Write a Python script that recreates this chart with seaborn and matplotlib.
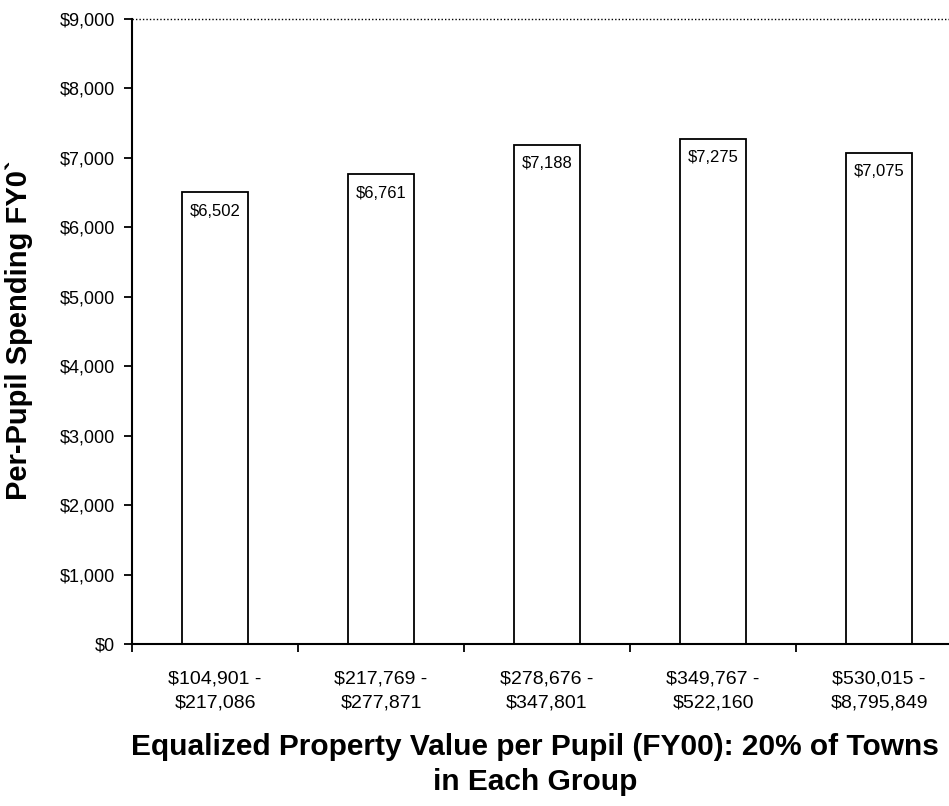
import matplotlib
matplotlib.use("Agg")
import matplotlib.pyplot as plt
import seaborn as sns
import pandas as pd
from matplotlib.ticker import FixedLocator, FuncFormatter

categories = [
    "$104,901 -\n$217,086",
    "$217,769 -\n$277,871",
    "$278,676 -\n$347,801",
    "$349,767 -\n$522,160",
    "$530,015 -\n$8,795,849",
]
spending = [6502, 6761, 7188, 7275, 7075]
bar_labels = ["$6,502", "$6,761", "$7,188", "$7,275", "$7,075"]
y_ticks = [0, 1000, 2000, 3000, 4000, 5000, 6000, 7000, 8000, 9000]

sns.set_theme(style="white")
plt.rcParams["font.family"] = ["Liberation Sans", "DejaVu Sans"]

df = pd.DataFrame({"group": categories, "value": spending})

fig = plt.figure(figsize=(9.49, 8.06), dpi=100)
ax = fig.add_axes([132 / 949, 162 / 806, 830 / 949, 625 / 806])

sns.barplot(data=df, x="group", y="value", ax=ax, color="white",
            edgecolor="black", linewidth=1.3, width=0.4, saturation=1)

ax.set_xlim(-0.5, 4.5)
ax.set_ylim(0, 9000)

# value labels inside bar tops
for i, (v, lab) in enumerate(zip(spending, bar_labels)):
    ax.annotate(lab, (i, v), xytext=(0, -8), textcoords="offset points",
                ha="center", va="top", fontsize=12, color="black")

# top dotted line at 9000
ax.axhline(9000, color="black", linestyle=(0, (1, 1.5)), linewidth=1, clip_on=False)

for s in ["top", "right"]:
    ax.spines[s].set_visible(False)
for s in ["left", "bottom"]:
    ax.spines[s].set_color("black")
    ax.spines[s].set_linewidth(1.5)

ax.yaxis.set_major_locator(FixedLocator(y_ticks))
ax.yaxis.set_major_formatter(FuncFormatter(lambda v, p: "${:,.0f}".format(v)))
ax.tick_params(axis="y", which="major", left=True, length=6, width=1.3,
               color="black", labelsize=13, pad=6, labelcolor="black")

# x: labels at category centers (no tick marks), tick marks at boundaries
ax.set_xticks(range(len(categories)))
ax.set_xticklabels(categories, fontsize=14, color="black", linespacing=1.55)
ax.tick_params(axis="x", which="major", bottom=False, length=0, pad=19)
ax.set_xticks([i - 0.5 for i in range(len(categories) + 1)], minor=True)
ax.tick_params(axis="x", which="minor", bottom=True, length=6, width=1.3, color="black")

ax.set_xlabel("Equalized Property Value per Pupil (FY00): 20% of Towns\nin Each Group",
              fontsize=21.5, fontweight="bold", color="black", linespacing=1.3)
ax.xaxis.set_label_coords(0.4855, -0.143)
ax.set_ylabel("Per-Pupil Spending FY0`", fontsize=21, fontweight="bold", color="black")
ax.yaxis.set_label_coords(-0.119, 0.502)

fig.savefig("out.png", dpi=100, facecolor="white")
